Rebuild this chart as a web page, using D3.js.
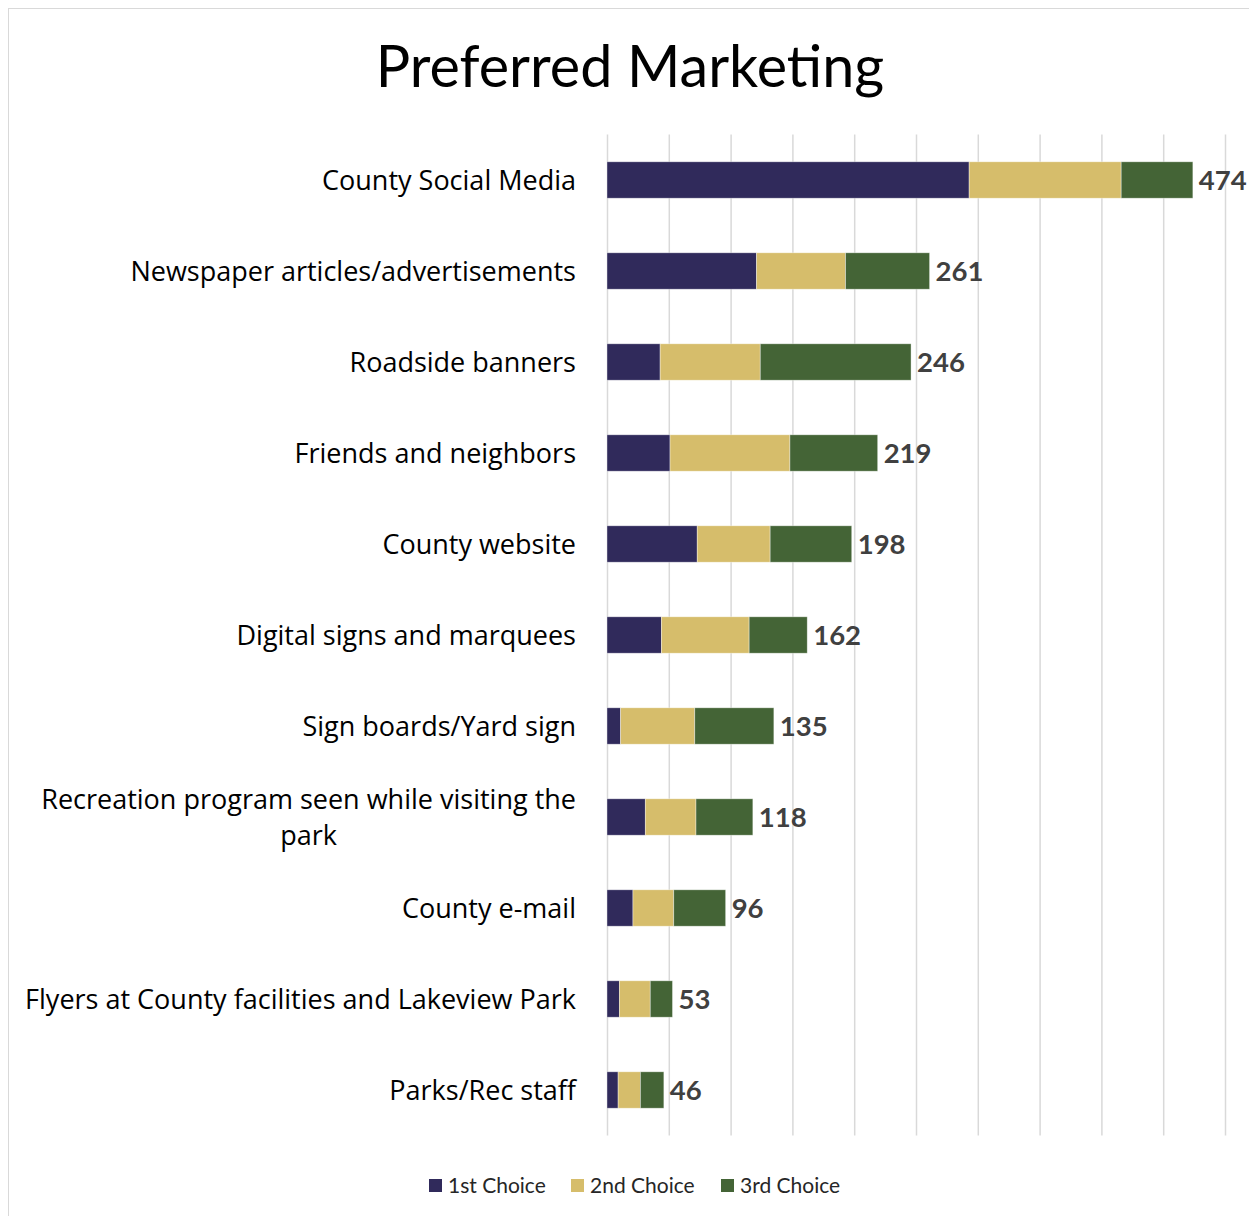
<!DOCTYPE html>
<html>
<head>
<meta charset="utf-8">
<script src="https://cdn.jsdelivr.net/npm/d3@7"></script>
<style>
  html, body { margin: 0; padding: 0; background: #fff; }
  svg { display: block; }
</style>
</head>
<body>
<svg id="chart" width="1249" height="1216"></svg>
<script>
const categories = [
  "County Social Media",
  "Newspaper articles/advertisements",
  "Roadside banners",
  "Friends and neighbors",
  "County website",
  "Digital signs and marquees",
  "Sign boards/Yard sign",
  "Recreation program seen while visiting the park",
  "County e-mail",
  "Flyers at County facilities and Lakeview Park",
  "Parks/Rec staff"
];
const firstChoice  = [293, 121, 43, 51, 73, 44, 11, 31, 21, 10, 9];
const secondChoice = [123, 72, 81, 97, 59, 71, 60, 41, 33, 25, 18];
const thirdChoice  = [58, 68, 122, 71, 66, 47, 64, 46, 42, 18, 19];
const totals       = [474, 261, 246, 219, 198, 162, 135, 118, 96, 53, 46];
const seriesNames  = ["1st Choice", "2nd Choice", "3rd Choice"];
const xTicks       = [0, 50, 100, 150, 200, 250, 300, 350, 400, 450, 500];

const colors = ["#302a5b", "#d6bd6b", "#446436"];
const TITLE_FONT = "Lato, 'Open Sans', sans-serif";
const LABEL_FONT = "'Open Sans', Lato, sans-serif";

const svg = d3.select("#chart");

// outer chart border
svg.append("rect")
  .attr("x", 8.5).attr("y", 8.5)
  .attr("width", 1260).attr("height", 1230)
  .attr("fill", "none").attr("stroke", "#d9d9d9").attr("stroke-width", 1);

// title
svg.append("text")
  .attr("x", 630).attr("y", 87)
  .attr("text-anchor", "middle")
  .attr("font-family", TITLE_FONT)
  .attr("font-size", 57.5)
  .attr("fill", "#000")
  .text("Preferred Marketing");

const x = d3.scaleLinear().domain([0, 500]).range([607, 1225]);
const y = d3.scaleBand().domain(categories).range([134.5, 1135.5])
  .paddingInner(0.6).paddingOuter(0.3);

// gridlines
const grid = d3.axisBottom(x).tickValues(xTicks).tickSize(-(1135.5 - 134.5)).tickFormat("");
const gg = svg.append("g").attr("transform", "translate(0,1135.5)").call(grid);
gg.select(".domain").remove();
gg.selectAll(".tick line").attr("stroke", "#d9d9d9").attr("stroke-width", 1.5);

// stack data
const rows = categories.map((c, i) => ({
  cat: c, "1st Choice": firstChoice[i], "2nd Choice": secondChoice[i], "3rd Choice": thirdChoice[i], total: totals[i]
}));
const stacked = d3.stack().keys(seriesNames)(rows);

svg.append("g").selectAll("g")
  .data(stacked)
  .join("g")
  .attr("fill", (d, i) => colors[i])
  .selectAll("rect")
  .data(d => d)
  .join("rect")
  .attr("x", d => x(d[0]))
  .attr("y", d => y(d.data.cat))
  .attr("width", d => x(d[1]) - x(d[0]))
  .attr("height", y.bandwidth())
  .attr("stroke", "#ffffff")
  .attr("stroke-opacity", 0.5)
  .attr("stroke-width", 0.75);

// data labels
svg.append("g").selectAll("text")
  .data(rows)
  .join("text")
  .attr("x", d => x(d.total) + 6)
  .attr("y", d => y(d.cat) + y.bandwidth() / 2)
  .attr("dy", "0.36em")
  .attr("font-family", TITLE_FONT)
  .attr("font-weight", "bold")
  .attr("font-size", 27.5)
  .attr("fill", "#404040")
  .text(d => d.total);

// category labels (wrapped, centered lines, block right-aligned)
const labelRight = 576;
const maxW = 560;
const lg = svg.append("g").attr("font-family", LABEL_FONT).attr("font-size", 27).attr("fill", "#000");
categories.forEach(c => {
  const words = c.split(" ");
  const lines = [];
  let cur = "";
  const probe = lg.append("text");
  words.forEach(w => {
    const t = cur ? cur + " " + w : w;
    probe.text(t);
    if (probe.node().getComputedTextLength() > maxW && cur) {
      lines.push(cur); cur = w;
    } else cur = t;
  });
  lines.push(cur);
  probe.remove();
  const widths = lines.map(l => { const p = lg.append("text").text(l); const w = p.node().getComputedTextLength(); p.remove(); return w; });
  const blockW = d3.max(widths);
  const cx = labelRight - blockW / 2;
  const lh = 36;
  const cy = y(c) + y.bandwidth() / 2;
  lines.forEach((l, i) => {
    lg.append("text")
      .attr("x", cx)
      .attr("y", cy + (i - (lines.length - 1) / 2) * lh)
      .attr("dy", "0.36em")
      .attr("text-anchor", "middle")
      .text(l);
  });
});

// legend
const legendItems = [
  { name: seriesNames[0], color: colors[0], x: 429 },
  { name: seriesNames[1], color: colors[1], x: 571 },
  { name: seriesNames[2], color: colors[2], x: 721 }
];
const leg = svg.append("g");
legendItems.forEach(it => {
  leg.append("rect").attr("x", it.x).attr("y", 1179).attr("width", 13).attr("height", 13).attr("fill", it.color);
  leg.append("text").attr("x", it.x + 19).attr("y", 1185.5).attr("dy", "0.36em")
    .attr("font-family", TITLE_FONT).attr("font-size", 21).attr("fill", "#262626").text(it.name);
});
</script>
</body>
</html>
